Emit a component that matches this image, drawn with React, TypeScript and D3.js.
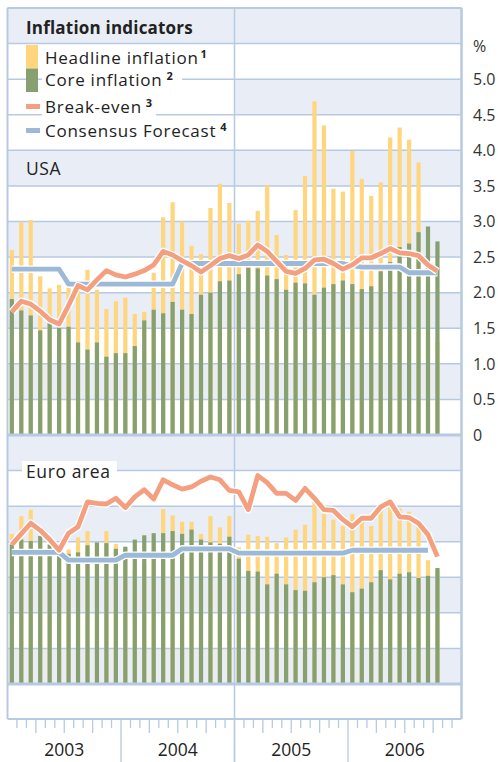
import React from 'react';
import * as d3 from 'd3';

// ---------- data ----------
const months = d3.timeMonth.range(new Date(2003, 0, 1), new Date(2006, 10, 1)); // Jan 2003 .. Oct 2006
const years = ['2003', '2004', '2005', '2006'];
const usTicks = [0, 0.5, 1, 1.5, 2, 2.5, 3, 3.5, 4, 4.5, 5];

const usHeadline = [2.60, 2.99, 3.02, 2.23, 2.06, 2.11, 2.09, 2.08, 2.32, 2.04, 1.77, 1.88, 1.93, 1.70, 1.73, 2.28, 3.06, 3.27, 3.00, 2.66, 2.54, 3.19, 3.53, 3.26, 2.97, 3.01, 3.15, 3.51, 2.81, 2.53, 3.16, 3.64, 4.69, 4.35, 3.46, 3.42, 3.99, 3.60, 3.36, 3.55, 4.18, 4.32, 4.15, 3.83, 2.10, 1.30];
const usCore = [1.91, 1.75, 1.68, 1.47, 1.57, 1.52, 1.52, 1.30, 1.20, 1.30, 1.10, 1.15, 1.15, 1.25, 1.61, 1.76, 1.71, 1.87, 1.76, 1.70, 1.97, 2.00, 2.16, 2.17, 2.26, 2.35, 2.34, 2.24, 2.19, 2.04, 2.14, 2.13, 1.97, 2.07, 2.12, 2.17, 2.12, 2.05, 2.09, 2.30, 2.43, 2.64, 2.69, 2.85, 2.93, 2.72];
const usBreakEven = [1.73, 1.88, 1.84, 1.74, 1.62, 1.56, 1.82, 2.10, 2.04, 2.18, 2.31, 2.25, 2.22, 2.26, 2.31, 2.39, 2.58, 2.53, 2.45, 2.38, 2.29, 2.38, 2.48, 2.52, 2.48, 2.53, 2.67, 2.58, 2.44, 2.30, 2.27, 2.34, 2.46, 2.47, 2.41, 2.33, 2.39, 2.49, 2.49, 2.55, 2.62, 2.56, 2.55, 2.52, 2.39, 2.30];
const usConsensus = [2.33, 2.33, 2.33, 2.33, 2.33, 2.33, 2.12, 2.12, 2.12, 2.12, 2.12, 2.12, 2.12, 2.12, 2.12, 2.12, 2.12, 2.12, 2.41, 2.41, 2.41, 2.41, 2.41, 2.41, 2.41, 2.41, 2.41, 2.41, 2.41, 2.41, 2.41, 2.41, 2.41, 2.41, 2.41, 2.41, 2.38, 2.36, 2.36, 2.36, 2.36, 2.36, 2.28, 2.28, 2.28, 2.28];

const euHeadline = [2.11, 2.36, 2.45, 2.05, 1.80, 1.88, 1.89, 2.06, 2.15, 1.98, 2.15, 1.97, 1.90, 1.60, 1.70, 2.00, 2.46, 2.37, 2.28, 2.28, 2.11, 2.36, 2.20, 2.36, 1.92, 2.10, 2.08, 2.07, 1.98, 2.06, 2.17, 2.24, 2.56, 2.39, 2.31, 2.22, 2.39, 2.29, 2.22, 2.46, 2.54, 2.47, 2.42, 2.30, 1.74, 1.60];
const euCore = [1.96, 2.03, 2.01, 2.08, 1.96, 1.91, 1.83, 1.85, 1.95, 1.99, 1.98, 1.90, 1.93, 2.03, 2.09, 2.12, 2.12, 2.15, 2.11, 2.17, 2.03, 1.99, 1.97, 2.07, 1.76, 1.59, 1.58, 1.40, 1.55, 1.40, 1.32, 1.31, 1.43, 1.50, 1.53, 1.40, 1.29, 1.34, 1.43, 1.60, 1.47, 1.55, 1.57, 1.49, 1.52, 1.63];
const euBreakEven = [1.96, 2.11, 2.26, 2.16, 2.03, 1.88, 2.12, 2.21, 2.56, 2.54, 2.53, 2.61, 2.48, 2.63, 2.73, 2.60, 2.87, 2.80, 2.74, 2.77, 2.85, 2.91, 2.87, 2.72, 2.70, 2.45, 2.93, 2.83, 2.68, 2.68, 2.58, 2.75, 2.61, 2.45, 2.44, 2.31, 2.21, 2.33, 2.33, 2.49, 2.56, 2.35, 2.34, 2.26, 2.10, 1.79];
const euConsensus: (number | null)[] = [1.85, 1.85, 1.85, 1.85, 1.85, 1.85, 1.74, 1.74, 1.74, 1.74, 1.74, 1.74, 1.81, 1.81, 1.81, 1.81, 1.81, 1.81, 1.90, 1.90, 1.90, 1.90, 1.90, 1.90, 1.84, 1.84, 1.84, 1.84, 1.84, 1.84, 1.84, 1.84, 1.84, 1.84, 1.84, 1.84, 1.88, 1.88, 1.88, 1.88, 1.88, 1.88, 1.88, 1.88, 1.88, null];

// ---------- style ----------
const FONT = "'Open Sans', 'Noto Sans', sans-serif";
const GRID = '#b7c9e3';
const BAND = '#e9eef6';
const YELLOW = '#ffd67d';
const GREEN = '#86a070';
const ORANGE = '#f4a080';
const BLUE = '#9db9d8';
const TEXT = '#222';

const W = 498;
const H = 762;
const LEFT = 7.5;
const RIGHT = 461.5;
const TOP = 8;
const US_ZERO = 435;
const EU_ZERO = 684;
const BOTTOM = 719;

export default function App() {
  const x = d3.scaleLinear().domain([0, 48]).range([LEFT, RIGHT]);
  const yUS = d3.scaleLinear().domain([0, 6]).range([US_ZERO, TOP]);
  const yEU = d3.scaleLinear().domain([0, 3.5]).range([EU_ZERO, US_ZERO]);
  const cx = (i: number) => x(i + 0.5) - 0.4;
  const bw = 4.2;

  const usBands = d3.range(12).map((k) => ({ k, y0: yUS(k * 0.5), y1: yUS((k + 1) * 0.5) }));
  const euBands = d3.range(7).map((k) => ({ k, y0: yEU(k * 0.5), y1: yEU((k + 1) * 0.5) }));

  const mkLine = (y: (v: number) => number) =>
    d3
      .line<number | null>()
      .defined((d) => d != null)
      .x((_, i) => cx(i))
      .y((d) => y(d as number));

  const usLine = mkLine(yUS);
  const euLine = mkLine(yEU);

  const renderBars = (
    headline: number[],
    core: number[],
    y: (v: number) => number,
    zero: number
  ) => (
    <g>
      {months.map((m, i) => (
        <rect key={'h' + i} x={cx(i) - bw / 2} width={bw} y={y(headline[i])} height={zero - y(headline[i])} fill={YELLOW} />
      ))}
      {months.map((m, i) => (
        <rect key={'c' + i} x={cx(i) - bw / 2} width={bw} y={y(core[i])} height={zero - y(core[i])} fill={GREEN} />
      ))}
    </g>
  );

  const renderLine = (d: string | null, color: string) => (
    <g>
      <path d={d || ''} fill="none" stroke="#fff" strokeWidth={7.5} strokeLinejoin="round" />
      <path d={d || ''} fill="none" stroke={color} strokeWidth={4.8} strokeLinejoin="round" />
    </g>
  );

  const tickIdx = d3.range(1, 48);

  return (
    <svg width={W} height={H} style={{ position: 'absolute', left: 0, top: 0 }} fontFamily={FONT}>
      <rect x={0} y={0} width={W} height={H} fill="#fff" />
      {/* bands */}
      {usBands.filter((b) => b.k % 2 === 1).map((b) => (
        <rect key={'ub' + b.k} x={LEFT} width={RIGHT - LEFT} y={b.y1} height={b.y0 - b.y1} fill={BAND} />
      ))}
      {euBands.filter((b) => b.k % 2 === 0).map((b) => (
        <rect key={'eb' + b.k} x={LEFT} width={RIGHT - LEFT} y={b.y1} height={b.y0 - b.y1} fill={BAND} />
      ))}
      {/* legend area */}
      <rect x={LEFT} y={yUS(5.5)} width={x(24) - LEFT} height={yUS(4.0) - yUS(5.5)} fill="#fff" />
      {/* grid lines */}
      {usBands.map((b) => (
        <line key={'ug' + b.k} x1={LEFT} x2={RIGHT} y1={b.y1} y2={b.y1} stroke={GRID} strokeWidth={1.5} />
      ))}
      {euBands.map((b) => (
        <line key={'eg' + b.k} x1={LEFT} x2={RIGHT} y1={b.y0} y2={b.y0} stroke={GRID} strokeWidth={1.5} />
      ))}
      {/* vertical divider */}
      <line x1={x(24)} x2={x(24)} y1={TOP} y2={H} stroke={GRID} strokeWidth={1.5} />

      {/* bars */}
      {renderBars(usHeadline, usCore, yUS, US_ZERO)}
      {renderBars(euHeadline, euCore, yEU, EU_ZERO)}

      {/* lines */}
      {renderLine(usLine(usConsensus), BLUE)}
      {renderLine(usLine(usBreakEven), ORANGE)}
      {renderLine(euLine(euConsensus), BLUE)}
      {renderLine(euLine(euBreakEven), ORANGE)}

      {/* frame */}
      <line x1={LEFT} x2={RIGHT} y1={TOP} y2={TOP} stroke={GRID} strokeWidth={2} />
      <line x1={LEFT} x2={RIGHT} y1={US_ZERO} y2={US_ZERO} stroke={GRID} strokeWidth={3} />
      <line x1={LEFT} x2={RIGHT} y1={EU_ZERO} y2={EU_ZERO} stroke={GRID} strokeWidth={3} />
      <line x1={LEFT} x2={RIGHT} y1={BOTTOM} y2={BOTTOM} stroke={GRID} strokeWidth={2} />
      <line x1={LEFT} x2={LEFT} y1={TOP} y2={BOTTOM} stroke={GRID} strokeWidth={2} />
      <line x1={RIGHT} x2={RIGHT} y1={TOP} y2={BOTTOM} stroke={GRID} strokeWidth={2.5} />

      {/* title */}
      <text x={26} y={34} fontSize={17} fontWeight={700} fill={TEXT} letterSpacing={0.2}>Inflation indicators</text>

      {/* legend */}
      <rect x={26} y={45} width={12} height={23.5} fill={YELLOW} />
      <rect x={26} y={68.5} width={12} height={23.5} fill={GREEN} />
      <rect x={42} y={70} width={140} height={20} fill="#fff" />
      <text x={45} y={64} fontSize={17} fill={TEXT} letterSpacing={0.75}>
        Headline inflation<tspan fontSize={11} fontWeight={700} dx={2} dy={-6}>1</tspan>
      </text>
      <text x={45} y={86} fontSize={17} fill={TEXT} letterSpacing={0.75}>
        Core inflation<tspan fontSize={11} fontWeight={700} dx={4} dy={-6}>2</tspan>
      </text>
      <rect x={42} y={98} width={114} height={19} fill="#fff" />
      <line x1={26} x2={40} y1={106.5} y2={106.5} stroke={ORANGE} strokeWidth={5} />
      <text x={45} y={113} fontSize={17} fill={TEXT} letterSpacing={0.75}>
        Break-even<tspan fontSize={11} fontWeight={700} dx={4} dy={-6}>3</tspan>
      </text>
      <line x1={26} x2={40} y1={130.5} y2={130.5} stroke={BLUE} strokeWidth={5} />
      <text x={45} y={137} fontSize={17} fill={TEXT} letterSpacing={0.75}>
        Consensus Forecast<tspan fontSize={11} fontWeight={700} dx={4} dy={-6}>4</tspan>
      </text>

      {/* panel labels */}
      <text x={26} y={175} fontSize={17.5} fill={TEXT} letterSpacing={0.6}>USA</text>
      <rect x={22} y={461} width={95} height={20} fill="#fff" />
      <text x={26} y={478} fontSize={17.5} fill={TEXT} letterSpacing={0.6}>Euro area</text>

      {/* right axis */}
      <text x={473} y={52} fontSize={16} fill="#333">%</text>
      {usTicks.map((t) => (
        <text key={'yt' + t} x={473} y={yUS(t)} dy="0.36em" fontSize={16} fill="#333">
          {t === 0 ? '0' : t.toFixed(1)}
        </text>
      ))}

      {/* bottom axis */}
      {tickIdx.map((i) => {
        const isYear = i % 12 === 0;
        const isQuarter = i % 3 === 0;
        const y2 = isYear ? H : isQuarter ? 733 : 728;
        return <line key={'xt' + i} x1={x(i)} x2={x(i)} y1={BOTTOM + 1} y2={y2} stroke={GRID} strokeWidth={1.3} />;
      })}
      {years.map((yr, j) => (
        <text key={yr} x={(x(j * 12) + x(j * 12 + 12)) / 2} y={756} fontSize={17.5} fill={TEXT} textAnchor="middle">
          {yr}
        </text>
      ))}
    </svg>
  );
}
